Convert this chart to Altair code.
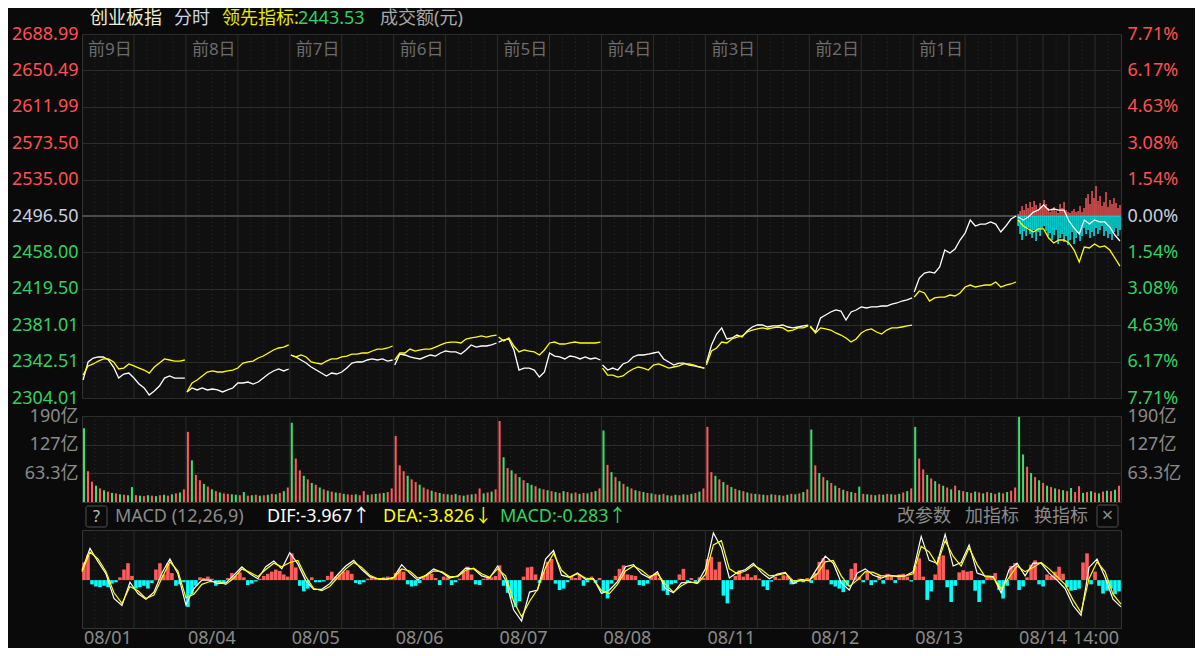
import altair as alt
import pandas as pd

# ---------------- data ----------------
DATES = ["08/01", "08/04", "08/05", "08/06", "08/07", "08/08", "08/11", "08/12", "08/13", "08/14"]
LAST_TIME = "14:00"
DAY_TAGS = ["前9日", "前8日", "前7日", "前6日", "前5日", "前4日", "前3日", "前2日", "前1日"]
PREV_CLOSE = 2496.50
LEAD_NOW = 2443.53
PRICE_TICKS = [2304.01, 2342.51, 2381.01, 2419.50, 2458.00, 2496.50,
               2535.00, 2573.50, 2611.99, 2650.49, 2688.99]
VOL_TICKS = [63.3, 127, 190]
MACD_TICKS = [-2.25, 2.43, 7.11]

# index (white line), 21 samples per trading day
idx_d0 = [2323.0, 2342.1, 2346.3, 2347.4, 2347.4, 2344.2, 2336.8, 2325.1, 2329.4, 2330.4, 2325.1,
          2318.8, 2314.6, 2307.2, 2311.4, 2316.7, 2325.1, 2327.3, 2325.1, 2325.1, 2325.1]
idx_d1 = [2310.4, 2314.6, 2312.5, 2314.6, 2312.5, 2313.5, 2312.5, 2310.4, 2312.5, 2314.6, 2319.9,
          2319.9, 2320.9, 2318.8, 2320.9, 2325.1, 2329.4, 2332.6, 2334.7, 2332.6, 2334.7]
idx_d2 = [2349.5, 2347.4, 2344.2, 2341.0, 2336.8, 2333.6, 2330.4, 2327.3, 2330.4, 2329.4, 2331.5,
          2335.7, 2341.0, 2342.1, 2342.1, 2344.2, 2345.3, 2344.2, 2345.3, 2343.1, 2344.2]
idx_d3 = [2338.9, 2350.5, 2349.5, 2347.4, 2346.3, 2345.3, 2347.4, 2349.5, 2348.4, 2351.6, 2353.7,
          2352.7, 2352.7, 2350.5, 2354.8, 2360.1, 2357.9, 2359.0, 2359.0, 2360.1, 2362.2]
idx_d4 = [2363.2, 2365.4, 2366.4, 2354.8, 2333.6, 2335.7, 2335.7, 2333.6, 2326.2, 2331.5, 2351.6,
          2348.4, 2347.4, 2345.3, 2348.4, 2347.4, 2345.3, 2347.4, 2345.3, 2346.3, 2344.2]
idx_d5 = [2338.9, 2333.6, 2335.7, 2333.6, 2340.0, 2342.1, 2347.4, 2349.5, 2349.5, 2350.5, 2351.6,
          2352.7, 2345.3, 2342.1, 2338.9, 2341.0, 2341.0, 2338.9, 2337.9, 2336.8, 2335.7]
idx_d6 = [2341.0, 2360.1, 2371.7, 2378.1, 2366.4, 2367.5, 2370.6, 2368.5, 2374.9, 2379.1, 2381.2,
          2381.2, 2379.1, 2380.2, 2380.2, 2381.2, 2379.1, 2378.1, 2379.1, 2380.2, 2381.2]
idx_d7 = [2379.1, 2373.8, 2388.6, 2391.8, 2395.0, 2397.1, 2396.0, 2386.5, 2395.0, 2397.1, 2400.3,
          2399.2, 2400.3, 2400.3, 2401.3, 2401.3, 2403.4, 2404.5, 2406.6, 2407.7, 2409.8]
idx_d8 = [2416.1, 2430.9, 2436.2, 2437.3, 2436.2, 2442.6, 2460.5, 2457.4, 2461.6, 2471.1, 2478.5,
          2492.3, 2485.9, 2488.0, 2488.0, 2490.2, 2488.0, 2479.6, 2485.9, 2493.3, 2496.5]
idx_d9 = [2495.4, 2492.3, 2495.4, 2500.7, 2502.8, 2508.1, 2502.8, 2503.9, 2502.8, 2502.8, 2491.2,
          2483.8, 2477.5, 2492.3, 2488.0, 2492.3, 2490.2, 2490.2, 2484.9, 2476.4, 2470.1]

# leading indicator (yellow line)
lead_d0 = [2328.3, 2337.9, 2340.0, 2343.1, 2345.3, 2345.3, 2342.1, 2334.7, 2335.7, 2340.0, 2337.9,
           2335.7, 2333.6, 2330.4, 2336.8, 2341.0, 2345.3, 2344.2, 2343.1, 2343.1, 2344.2]
lead_d1 = [2310.4, 2319.9, 2323.0, 2327.3, 2331.5, 2332.6, 2331.5, 2331.5, 2332.6, 2333.6, 2335.7,
           2341.0, 2342.1, 2343.1, 2346.3, 2348.4, 2351.6, 2354.8, 2356.9, 2357.9, 2360.1]
lead_d2 = [2349.5, 2347.4, 2349.5, 2347.4, 2342.1, 2341.0, 2340.0, 2343.1, 2345.3, 2345.3, 2347.4,
           2348.4, 2350.5, 2350.5, 2351.6, 2351.6, 2353.7, 2355.8, 2355.8, 2356.9, 2359.0]
lead_d3 = [2344.2, 2351.6, 2351.6, 2355.8, 2353.7, 2354.8, 2355.8, 2355.8, 2357.9, 2360.1, 2362.2,
           2363.2, 2363.2, 2362.2, 2366.4, 2367.5, 2368.5, 2369.6, 2368.5, 2369.6, 2370.6]
lead_d4 = [2368.5, 2364.3, 2367.5, 2359.0, 2352.7, 2354.8, 2353.7, 2352.7, 2349.5, 2354.8, 2362.2,
           2363.2, 2361.1, 2361.1, 2362.2, 2363.2, 2362.2, 2362.2, 2362.2, 2362.2, 2363.2]
lead_d5 = [2335.7, 2328.3, 2328.3, 2326.2, 2327.3, 2331.5, 2334.7, 2336.8, 2335.7, 2333.6, 2338.9,
           2340.0, 2337.9, 2335.7, 2336.8, 2337.9, 2340.0, 2340.0, 2338.9, 2336.8, 2335.7]
lead_d6 = [2338.9, 2353.7, 2356.9, 2363.2, 2362.2, 2366.4, 2368.5, 2369.6, 2373.8, 2375.9, 2377.0,
           2378.1, 2377.0, 2378.1, 2379.1, 2378.1, 2374.9, 2375.9, 2378.1, 2378.1, 2380.2]
lead_d7 = [2380.2, 2372.8, 2378.1, 2377.0, 2375.9, 2372.8, 2370.6, 2367.5, 2363.2, 2366.4, 2372.8,
           2375.9, 2377.0, 2373.8, 2371.7, 2375.9, 2378.1, 2378.1, 2379.1, 2380.2, 2381.2]
lead_d8 = [2410.8, 2417.2, 2415.1, 2406.6, 2409.8, 2410.8, 2410.8, 2412.9, 2411.9, 2415.1, 2421.4,
           2423.5, 2421.4, 2422.5, 2423.5, 2423.5, 2426.7, 2421.4, 2423.5, 2424.6, 2426.7]
lead_d9 = [2492.3, 2485.9, 2482.8, 2479.6, 2482.8, 2482.8, 2473.2, 2468.0, 2471.1, 2471.1, 2468.0,
           2460.5, 2447.8, 2463.7, 2462.7, 2466.9, 2463.7, 2464.8, 2460.5, 2452.1, 2443.53]

# buy / sell force bars of the leading indicator, today only
force_up = [2, 5, 10, 6, 12, 8, 14, 9, 15, 11, 7, 13, 10, 16, 12, 8, 4, 6, 9, 5, 3, 12, 8, 14, 6, 4,
            3, 5, 7, 4, 5, 10, 4, 8, 18, 22, 12, 25, 18, 30, 15, 20, 10, 14, 24, 9, 16, 12, 18, 13, 8, 11]
force_dn = [10, 18, 24, 15, 20, 12, 18, 22, 14, 25, 16, 20, 12, 10, 15, 20, 17, 24, 19, 14, 28, 22,
            18, 26, 20, 29, 24, 16, 28, 22, 17, 25, 20, 12, 18, 14, 22, 16, 20, 12, 18, 14, 10, 20,
            15, 22, 18, 24, 16, 12, 20, 14]

# turnover in 亿 (positive = up bar / red, negative = down bar / green)
vol_d0 = [-163, 68, 45, -36, 30, -26, 23, -20, 19, -17, 16, -15, -33, 15, -14, 13, -15, 14, -13, 15,
          -16, 14, -17, 19, -21, 28]
vol_d1 = [155, -92, 60, 48, -40, 34, -28, 24, -21, 19, 18, -17, -16, 15, -22, 14, -15, 16, -14, 15,
          -16, 18, -17, 20, -24, 32]
vol_d2 = [-175, 96, 70, -58, 50, -42, 38, -32, 28, -25, 23, -21, 20, -18, 17, 16, -17, 15, 24, -16,
          17, -18, 19, -20, 22, 30]
vol_d3 = [146, 81, 68, -58, 50, 44, -38, 32, 28, -25, 22, -20, 18, -17, 16, -18, 15, -14, 16, -17,
          18, 30, -19, 21, -23, 28]
vol_d4 = [179, -99, 75, -70, 62, -55, 48, -42, -38, 35, -30, 28, -26, 24, -22, 20, -24, 22, -19, 21,
          -18, 20, -19, 22, -24, 30]
vol_d5 = [-158, 82, -66, 55, -46, 40, -34, 30, -26, 24, -22, 20, -19, 17, -16, 18, -15, 14, -16, 15,
          -17, 16, -18, 20, -23, 30]
vol_d6 = [166, 66, -58, 50, -44, 38, -33, 29, -26, 24, -21, 19, -18, 17, -16, 15, -17, 16, -15, 14,
          -16, 18, -17, 19, -22, 28]
vol_d7 = [-160, 81, -64, 55, -48, 42, -36, 31, -27, 24, -22, 20, -34, 18, -17, 16, -15, 17, -16, 18,
          -17, 16, -18, 21, -24, 30]
vol_d8 = [-166, 96, 72, -60, 52, -46, 40, -36, 32, -28, 36, -26, 24, -22, 20, -23, 21, -19, 22, -20,
          18, -21, 19, -22, 25, 32]
vol_d9 = [-188, -105, 78, -64, 55, -48, 42, -36, 33, -30, 28, -26, 24, -31, 22, 35, -20, 22, -24, 21,
          -19, 23, -25, 24, -27, 36]

# MACD: DIF (white), DEA (yellow), 13 samples per day; histogram 26 per day
dif_d0 = [1.4, 4.5, 2.6, 0.9, -2.6, -3.6, -0.3, -1.9, -2.7, -1.7, 1.0, 3.0, 0.9]
dif_d1 = [-3.5, -1.2, 0.0, 0.0, -0.5, -0.4, 0.7, 1.9, 0.9, 0.2, 1.9, 2.7, 1.6]
dif_d2 = [3.9, 2.3, -0.1, -1.3, -1.3, -0.5, 0.8, 2.0, 2.8, 1.5, 0.5, 0.2, 0.1]
dif_d3 = [0.4, 2.2, 1.0, 0.0, 0.7, 1.6, 1.1, 0.3, 0.6, 1.7, 1.6, 0.6, 0.3]
dif_d4 = [2.0, 0.0, -4.2, -5.8, -1.7, -1.4, 3.0, 4.2, 0.7, 0.4, 1.0, 0.1, 0.2]
dif_d5 = [-1.9, -1.4, -0.2, 1.9, 2.2, 0.9, 0.3, 1.2, -1.2, -1.8, -0.4, -0.3, -0.4]
dif_d6 = [1.6, 6.7, 4.6, 0.3, 1.1, 1.5, 2.4, 1.1, 0.2, 0.85, 1.1, -0.5, 0.1]
dif_d7 = [-0.1, 1.7, 3.4, 2.4, -0.4, -1.4, 1.0, 1.6, 0.7, 0.3, 0.7, 0.5, 0.6]
dif_d8 = [1.2, 6.2, 2.8, 2.4, 6.5, 2.0, 2.5, 5.0, 1.0, 0.6, 0.5, -1.8, 1.5]
dif_d9 = [2.4, 0.6, 2.4, 2.4, 1.0, 0.0, -1.2, -3.6, -5.0, 1.8, 3.0, 0.4, -2.7, -3.8]

dea_d0 = [1.2, 4.0, 3.0, 1.2, -1.8, -3.3, -0.9, -1.5, -2.6, -2.1, 0.3, 2.6, 1.3]
dea_d1 = [-2.5, -2.0, -0.6, -0.2, -0.2, -0.6, 0.3, 1.6, 1.1, 0.5, 1.5, 2.4, 1.9]
dea_d2 = [2.5, 2.8, 0.5, -1.2, -1.5, -0.9, 0.4, 1.6, 2.5, 1.8, 0.7, 0.2, 0.1]
dea_d3 = [0.3, 1.6, 1.3, 0.3, 0.6, 1.3, 1.2, 0.5, 0.5, 1.4, 1.7, 0.9, 0.4]
dea_d4 = [1.6, 0.6, -3.0, -5.2, -3.0, -1.3, 1.8, 3.8, 1.4, 0.4, 0.9, 0.3, 0.1]
dea_d5 = [-1.5, -1.9, -0.6, 1.3, 2.0, 1.4, 0.5, 0.9, -0.6, -1.7, -0.8, -0.2, -0.5]
dea_d6 = [0.8, 5.0, 5.6, 1.6, 0.9, 1.3, 2.1, 1.5, 0.6, 0.7, 1.0, -0.1, -0.1]
dea_d7 = [0.0, 0.9, 2.6, 2.8, 0.6, -0.9, 0.0, 1.2, 1.1, 0.6, 0.6, 0.6, 0.6]
dea_d8 = [0.9, 4.8, 4.0, 2.2, 5.6, 3.4, 2.0, 4.6, 2.2, 0.5, 0.4, -1.2, 0.4]
dea_d9 = [2.0, 1.2, 1.8, 2.5, 1.6, 0.5, -0.6, -2.8, -4.6, 0.2, 2.6, 1.2, -2.0, -3.4]

hist_d0 = [2.5, 3.5, -0.6, -0.9, -1.0, -0.8, -1.0, -0.5, -0.3, 0.4, 1.5, 2.4, 0.6, -1.2, -1.0, -0.8,
           -1.2, -0.4, 1.5, 2.4, 0.8, 2.4, 1.0, -0.8, -0.6, -0.3]
hist_d1 = [-3.8, -2.0, -0.8, 0.4, 0.3, 0.5, 0.2, -0.8, -0.4, -0.5, 0.3, 1.0, 0.6, 1.1, 0.4, -0.7,
           -0.5, -0.2, 0.2, 0.6, 0.9, 1.2, 1.5, 1.3, 0.8, 0.5]
hist_d2 = [3.8, 1.8, -0.8, -1.6, -1.2, 0.4, -0.3, -0.3, -0.2, 0.6, 1.2, 0.5, 0.8, 1.2, 1.4, 0.9,
           -0.4, -0.6, -0.3, 0.2, 0.4, 0.3, 0.2, 0.4, 0.5, 0.3]
hist_d3 = [1.0, 1.6, 1.2, -0.6, -0.9, -0.8, -0.4, 0.6, 0.8, 0.9, 0.3, -0.7, 0.5, 0.4, -0.7, -0.3,
           0.2, 1.2, 1.9, 0.8, -0.6, -0.7, 0.2, 0.5, 0.4, 0.6]
hist_d4 = [2.1, -0.8, -1.8, -2.6, -3.8, -3.0, 0.5, 1.8, 1.9, 0.8, -0.4, 1.2, 2.6, 3.0, -0.5, -1.4,
           -1.2, -0.3, 0.6, 0.3, 0.8, -0.8, -0.3, 0.5, -0.4, 0.3]
hist_d5 = [-1.8, -2.6, -0.5, 0.6, 1.6, 2.1, 0.8, 0.7, 0.6, -0.7, -0.8, -0.5, 0.6, 0.9, 0.3, -1.5,
           -2.1, -0.6, -0.4, 0.8, 1.6, -0.4, 0.3, -0.3, 0.4, 0.3]
hist_d6 = [3.0, 3.3, 1.5, 2.6, -2.2, -3.3, -1.3, 0.6, 1.4, 0.5, 0.9, 0.4, 0.7, 0.2, -0.9, -1.4,
           -0.2, 0.5, 0.2, 0.7, 0.6, -0.6, -0.5, 0.2, -0.3, 0.3]
hist_d7 = [-0.4, 1.0, 2.6, 3.1, 1.5, -0.6, -0.9, -1.2, -1.7, -0.8, 1.6, 2.4, 0.5, -0.3, 1.1, -0.7,
           -0.3, 0.7, -0.5, 0.9, 0.6, -0.4, 0.8, 0.9, 0.5, -0.2]
hist_d8 = [2.0, 3.1, 0.5, -2.8, -1.6, 0.8, 3.3, 3.5, -1.0, -3.1, -0.8, 1.1, 1.4, 1.2, 1.3, -1.5,
           -3.1, -0.5, 0.4, 0.3, 1.0, -1.4, -2.6, -0.8, 2.0, 2.4]
hist_d9 = [-1.4, -0.9, 0.4, 2.2, 2.8, -0.6, -0.9, 0.8, 0.6, 1.2, 1.9, 0.9, -1.0, -1.5, -1.4, -1.2,
           2.5, 3.8, -0.6, 1.2, -0.8, -1.9, -1.5, -1.2, -2.0, -1.6]

# ---------------- style ----------------
FONT = "'Noto Sans', 'Noto Sans CJK SC', sans-serif"
BG = "#0a0a0a"
PANEL = "#101010"
BORDER = "#333333"
GRID = "#2c2c2c"
GRID_DOT = "#2a2a2a"
RED_TXT = "#ff5050"
GREEN_TXT = "#33d160"
CENTER_TXT = "#c8cfdc"
GRAY = "#8a8a8a"
RED_BAR = "#ff5c5c"
GREEN_BAR = "#3ce06e"
CYAN = "#00ffff"
YELLOW = "#ffff00"

W, H_PRICE, H_VOL, H_MACD = 1039, 364, 86, 98

# ---------------- tables ----------------
IDX = [idx_d0, idx_d1, idx_d2, idx_d3, idx_d4, idx_d5, idx_d6, idx_d7, idx_d8, idx_d9]
LEAD = [lead_d0, lead_d1, lead_d2, lead_d3, lead_d4, lead_d5, lead_d6, lead_d7, lead_d8, lead_d9]
VOL = [vol_d0, vol_d1, vol_d2, vol_d3, vol_d4, vol_d5, vol_d6, vol_d7, vol_d8, vol_d9]
DIF = [dif_d0, dif_d1, dif_d2, dif_d3, dif_d4, dif_d5, dif_d6, dif_d7, dif_d8, dif_d9]
DEA = [dea_d0, dea_d1, dea_d2, dea_d3, dea_d4, dea_d5, dea_d6, dea_d7, dea_d8, dea_d9]
HIST = [hist_d0, hist_d1, hist_d2, hist_d3, hist_d4, hist_d5, hist_d6, hist_d7, hist_d8, hist_d9]

price_rows = []
for d in range(10):
    n = len(IDX[d])
    for k in range(n):
        t = d + 0.01 + 0.98 * k / (n - 1)
        price_rows.append({"x": t, "v": IDX[d][k], "day": d, "s": "idx"})
        price_rows.append({"x": t, "v": LEAD[d][k], "day": d, "s": "lead"})
price_df = pd.DataFrame(price_rows)

nf = len(force_up)
force_df = pd.DataFrame({
    "x": [9 + (i + 0.15) / nf for i in range(nf)],
    "x2": [9 + (i + 0.85) / nf for i in range(nf)],
    "up": force_up,
    "dn": [-v for v in force_dn],
    "z": [0] * nf,
})

vol_rows = []
for d in range(10):
    n = len(VOL[d])
    for j, v in enumerate(VOL[d]):
        vol_rows.append({"x": d + (j + 0.25) / n, "x2": d + (j + 0.75) / n,
                         "vol": abs(v), "z": 0, "dir": "up" if v > 0 else "down"})
vol_df = pd.DataFrame(vol_rows)

macd_rows = []
for d in range(10):
    for k in range(len(DIF[d])):
        macd_rows.append({"x": d + k / 13, "dif": DIF[d][k], "dea": DEA[d][k]})
macd_df = pd.DataFrame(macd_rows)

hist_rows = []
for d in range(10):
    n = len(HIST[d])
    for j, v in enumerate(HIST[d]):
        hist_rows.append({"x": d + (j + 0.05) / n, "x2": d + (j + 0.95) / n, "h": v, "z": 0,
                          "sgn": "pos" if v >= 0 else "neg"})
hist_df = pd.DataFrame(hist_rows)

solid_x = [float(d) for d in range(1, 10)] + [d + 0.5 for d in range(10)] + [9.25, 9.75]
dot_x = [d + m / 8 for d in range(10) for m in (1, 2, 3, 5, 6, 7)
         if not (d == 9 and m in (2, 6))]
solid_df = pd.DataFrame({"x": solid_x})
dot_df = pd.DataFrame({"x": dot_x})
tag_df = pd.DataFrame({"d": list(range(9)), "tag": DAY_TAGS})
date_df = pd.DataFrame({"d": list(range(10)), "date": DATES})

# ---------------- scales / helpers ----------------
XS = alt.Scale(domain=[0, 10], nice=False, zero=False)
PS = alt.Scale(domain=[PRICE_TICKS[0], PRICE_TICKS[-1]], nice=False, zero=False)
FS = alt.Scale(domain=[-182, 182], nice=False, zero=False)
VS = alt.Scale(domain=[0, 190], nice=False, zero=False)
MS = alt.Scale(domain=[-6.79, 7.11], nice=False, zero=False)


def xq(field="x"):
    return alt.X(f"{field}:Q", scale=XS, axis=None)


def grid_layers():
    dots = alt.Chart(dot_df).mark_rule(color=GRID_DOT, strokeDash=[1, 3], strokeWidth=1).encode(x=xq())
    solids = alt.Chart(solid_df).mark_rule(color=GRID, strokeWidth=1).encode(x=xq())
    return [dots, solids]


def label(text, x, y, color, size=18, align="left"):
    return alt.Chart(pd.DataFrame({"t": [text]})).mark_text(
        align=align, baseline="middle", font=FONT, fontSize=size, color=color
    ).encode(x=alt.value(x), y=alt.value(y), text="t:N")


def box(x1, x2, y1, y2):
    return alt.Chart(pd.DataFrame({"a": [0]})).mark_rect(
        fill="transparent", stroke="#505050", strokeWidth=1, cornerRadius=2
    ).encode(x=alt.value(x1), x2=alt.value(x2), y=alt.value(y1), y2=alt.value(y2))


def axis(values, orient, label_expr, color, grid=False, padding=4):
    return alt.Axis(values=values, orient=orient, labelExpr=label_expr, labelColor=color,
                    labelFont=FONT, labelFontSize=18, labelPadding=padding, domain=False,
                    ticks=False, grid=grid, gridColor=GRID, title=None, labelOverlap=False)


price_color = {"condition": [{"test": f"datum.value > {PREV_CLOSE + 0.5}", "value": RED_TXT},
                             {"test": f"datum.value < {PREV_CLOSE - 0.5}", "value": GREEN_TXT}],
               "value": CENTER_TXT}

# ---------------- price panel ----------------
left_price_axis = axis(PRICE_TICKS, "left", "format(datum.value, '.2f')", price_color, grid=True)
right_price_axis = axis(PRICE_TICKS, "right",
                        f"format(abs(datum.value - {PREV_CLOSE}) / {PREV_CLOSE} * 100, '.2f') + '%'",
                        price_color, padding=6)

center_rule = alt.Chart(pd.DataFrame({"v": [PREV_CLOSE]})).mark_rule(
    color="#4a4a4a", strokeWidth=2).encode(y=alt.Y("v:Q", scale=PS, axis=right_price_axis))

tags = alt.Chart(tag_df).mark_text(align="left", baseline="middle", dx=6, font=FONT,
                                   fontSize=17, color="#6c6c6c").encode(
    x=xq("d"), y=alt.value(16), text="tag:N")

force_up_ch = alt.Chart(force_df).mark_rect(color=RED_BAR).encode(
    x=xq(), x2="x2", y=alt.Y("up:Q", scale=FS, axis=None), y2="z")
force_dn_ch = alt.Chart(force_df).mark_rect(color=CYAN).encode(
    x=xq(), x2="x2", y=alt.Y("dn:Q", scale=FS, axis=None), y2="z")

idx_line = alt.Chart(price_df).transform_filter("datum.s == 'idx'").mark_line(
    color="#ffffff", strokeWidth=1.3).encode(
    x=xq(), y=alt.Y("v:Q", scale=PS, axis=left_price_axis), detail="day:N")
lead_line = alt.Chart(price_df).transform_filter("datum.s == 'lead'").mark_line(
    color=YELLOW, strokeWidth=1.3).encode(
    x=xq(), y=alt.Y("v:Q", scale=PS, axis=None), detail="day:N")

title_layers = [
    label("创业板指", 8, -15, "#eeeed2"),
    label("分时", 92, -15, "#c8d4ee"),
    label("领先指标:", 140, -15, "#e8e800"),
    label(f"{LEAD_NOW:.2f}", 216, -15, GREEN_TXT),
    label("成交额(元)", 298, -15, "#a8a8a8"),
]

price = alt.layer(
    *grid_layers(), center_rule, tags, force_up_ch, force_dn_ch, idx_line, lead_line,
    *title_layers
).resolve_scale(y="independent").properties(width=W, height=H_PRICE)

# ---------------- volume panel ----------------
vol_expr = "(datum.value < 100 ? format(datum.value, '.1f') : format(datum.value, '.0f')) + '亿'"
vol_up = alt.Chart(vol_df).transform_filter("datum.dir == 'up'").mark_rect(color=RED_BAR).encode(
    x=xq(), x2="x2",
    y=alt.Y("vol:Q", scale=VS, axis=axis(VOL_TICKS, "left", vol_expr, GRAY, grid=True)),
    y2="z")
vol_down = alt.Chart(vol_df).transform_filter("datum.dir == 'down'").mark_rect(color=GREEN_BAR).encode(
    x=xq(), x2="x2", y=alt.Y("vol:Q", scale=VS, axis=None), y2="z")
vol_right = alt.Chart(pd.DataFrame({"vol": [0]})).mark_rule(opacity=0).encode(
    y=alt.Y("vol:Q", scale=VS, axis=axis(VOL_TICKS, "right", vol_expr, GRAY, padding=6)))

volume = alt.layer(*grid_layers(), vol_up, vol_down, vol_right).resolve_axis(
    y="independent").properties(width=W, height=H_VOL)

# ---------------- MACD panel ----------------
macd_color = {"condition": {"test": "datum.value > 0", "value": RED_TXT}, "value": GREEN_TXT}

hist_pos = alt.Chart(hist_df).transform_filter("datum.sgn == 'pos'").mark_rect(color=RED_BAR).encode(
    x=xq(), x2="x2",
    y=alt.Y("h:Q", scale=MS, axis=axis(MACD_TICKS, "left", "format(datum.value, '.2f')",
                                        macd_color, grid=True)),
    y2="z")
hist_neg = alt.Chart(hist_df).transform_filter("datum.sgn == 'neg'").mark_rect(color=CYAN).encode(
    x=xq(), x2="x2", y=alt.Y("h:Q", scale=MS, axis=None), y2="z")
dif_line = alt.Chart(macd_df).mark_line(color="#ffffff", strokeWidth=1.2).encode(
    x=xq(), y=alt.Y("dif:Q", scale=MS, axis=None))
dea_line = alt.Chart(macd_df).mark_line(color=YELLOW, strokeWidth=1.2).encode(
    x=xq(), y=alt.Y("dea:Q", scale=MS, axis=None))

date_labels = alt.Chart(date_df).mark_text(align="left", baseline="middle", dx=2, font=FONT,
                                           fontSize=18, color=GRAY).encode(
    x=xq("d"), y=alt.value(H_MACD + 11), text="date:N")

header = [
    box(4, 25, -24, -3),
    label("?", 14.5, -13, "#c0c0c0", size=16, align="center"),
    label("MACD (12,26,9)", 33, -13, GRAY),
    label("DIF:-3.967↑", 185, -13, "#ffffff"),
    label("DEA:-3.826↓", 301, -13, YELLOW),
    label("MACD:-0.283↑", 418, -13, GREEN_TXT),
    label("改参数", 815, -13, GRAY),
    label("加指标", 883, -13, GRAY),
    label("换指标", 952, -13, GRAY),
    box(1015, 1036, -25, -3),
    label("×", 1025.5, -14, GRAY, size=20, align="center"),
    label(LAST_TIME, 991, H_MACD + 11, GRAY),
]

macd = alt.layer(*grid_layers(), hist_pos, hist_neg, dif_line, dea_line, date_labels,
                 *header).properties(width=W, height=H_MACD)

# ---------------- assemble ----------------
lower = alt.vconcat(volume, macd, spacing=28, bounds="flush")
chart = alt.vconcat(price, lower, spacing=18, bounds="flush").properties(
    autosize=alt.AutoSizeParams(type="none"),
    padding={"left": 74, "top": 26, "right": 74, "bottom": 614},
    background=BG,
).configure_view(fill=PANEL, stroke=BORDER, strokeWidth=1)

chart.save("out.html", embed_options={"renderer": "svg", "actions": False})
